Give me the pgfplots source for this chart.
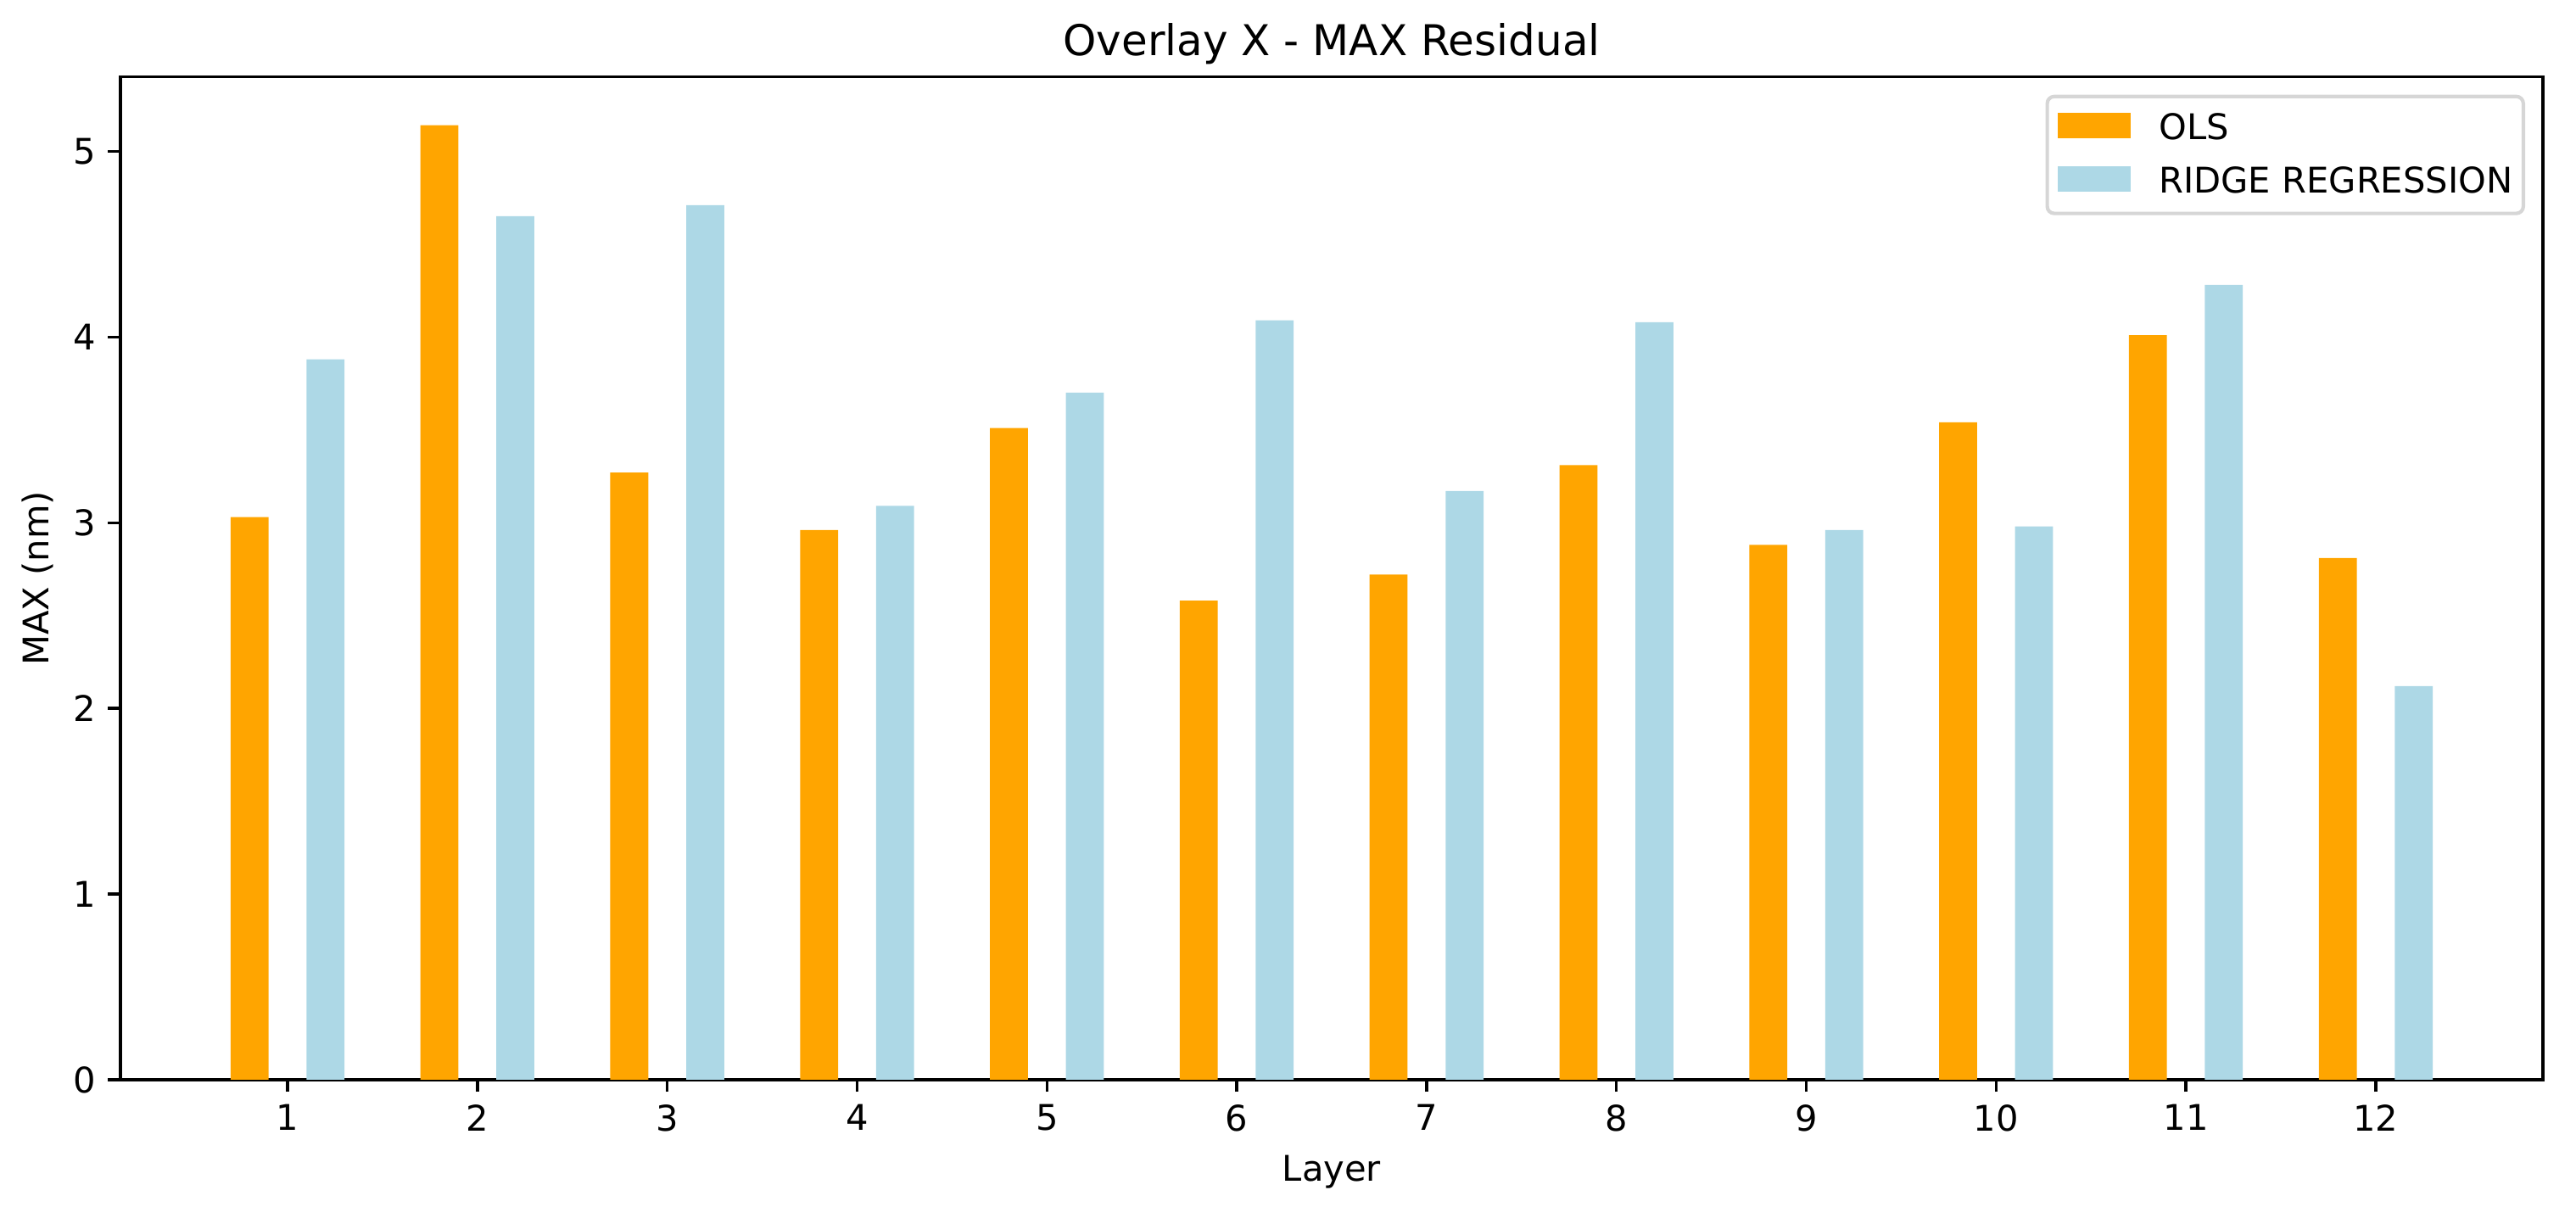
\documentclass[border=0pt]{standalone}
\usepackage{fontspec}
\setmainfont{DejaVu Sans}
\usepackage{pgfplots}
\pgfplotsset{compat=1.18}
\definecolor{olsorange}{HTML}{FFA500}
\definecolor{ridgeblue}{HTML}{ADD8E6}
\definecolor{legframe}{HTML}{D6D6D6}
\begin{document}
\begin{tikzpicture}
\begin{axis}[
    scale only axis,
    width=685.4pt, height=283.7pt,
    ybar, bar width=0.2,
    xmin=0.12, xmax=12.88,
    ymin=0, ymax=5.4,
    xtick={1,2,3,4,5,6,7,8,9,10,11,12},
    ytick={0,1,2,3,4,5},
    tick align=outside,
    xtick pos=lower, ytick pos=left,
    major tick length=3.5pt,
    every tick/.style={black, line width=0.8pt},
    axis line style={line width=0.8pt},
    /pgf/number format/assume math mode=true,
    tick label style={font=\fontsize{10}{12}\selectfont},
    title={Overlay X - MAX Residual},
    title style={font=\fontsize{12}{14}\selectfont,
        at={(axis description cs:0.5,1.0215)}, anchor=base, yshift=-6pt},
    xlabel={Layer},
    xlabel style={font=\fontsize{10}{12}\selectfont,
        at={(axis description cs:0.5,-0.1015)}, anchor=base},
    ylabel={MAX (nm)},
    ylabel style={font=\fontsize{10}{12}\selectfont,
        at={(axis description cs:-0.0295,0.5)}, anchor=base},
    legend cell align=left,
    legend image code/.code={\fill[#1, draw=none, sharp corners] (0pt,-2.7pt) rectangle (20.6pt,4.5pt);},
    legend style={at={(1,1)}, anchor=north east, xshift=-5pt, yshift=-5pt,
        draw=legframe, line width=1pt, rounded corners=2pt,
        font=\fontsize{10}{12}\selectfont,
        inner xsep=3pt, inner ysep=4.6pt,
        nodes={inner sep=0pt, text height=7.3pt, text depth=1.2pt},
        row sep=6.4pt, column sep=8pt},
]
\addplot[fill=olsorange, draw=none, bar shift=-0.2] coordinates {
    (1,3.03) (2,5.14) (3,3.27) (4,2.96) (5,3.51) (6,2.58)
    (7,2.72) (8,3.31) (9,2.88) (10,3.54) (11,4.01) (12,2.81)
};
\addlegendentry{OLS}
\addplot[fill=ridgeblue, draw=none, bar shift=0.2] coordinates {
    (1,3.88) (2,4.65) (3,4.71) (4,3.09) (5,3.70) (6,4.09)
    (7,3.17) (8,4.08) (9,2.96) (10,2.98) (11,4.28) (12,2.12)
};
\addlegendentry{RIDGE REGRESSION}
\coordinate (bl) at (rel axis cs:0,0);
\coordinate (tr) at (rel axis cs:1,1);
\end{axis}
\pgfresetboundingbox
\path ([shift={(-34.1pt,-35.8pt)}]bl) rectangle ([shift={(9.4pt,21.8pt)}]tr);
\end{tikzpicture}
\end{document}
